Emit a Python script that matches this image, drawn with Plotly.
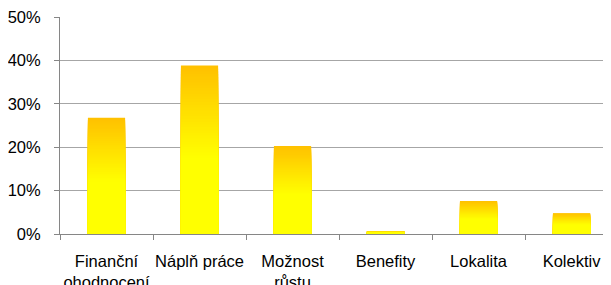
import plotly.graph_objects as go

categories = ["Finanční<br>ohodnocení", "Náplň práce", "Možnost<br>růstu", "Benefity", "Lokalita", "Kolektiv"]
values = [0.268, 0.388, 0.203, 0.007, 0.076, 0.048]
y_ticks = [0, 0.1, 0.2, 0.3, 0.4, 0.5]
y_tick_labels = ["0%", "10%", "20%", "30%", "40%", "50%"]

N = 60
top = (255, 192, 0)
bottom = (255, 255, 0)

def level_color(f):
    # f: relative height within bar (0 bottom, 1 top)
    t = max(0.0, (f - 0.45) / 0.55)
    r = round(bottom[0] + (top[0] - bottom[0]) * t)
    g = round(bottom[1] + (top[1] - bottom[1]) * t)
    b = round(bottom[2] + (top[2] - bottom[2]) * t)
    return f"rgb({r},{g},{b})"

fig = go.Figure()
# Overlay bars from full height down to shorter ones so each colour band covers the previous
for k in range(N, 0, -1):
    frac = k / N
    fig.add_trace(go.Bar(
        x=categories,
        y=[v * frac for v in values],
        marker=dict(color=level_color(frac - 0.5 / N), line=dict(width=0)),
        width=0.4,
        showlegend=False,
        hoverinfo="skip",
    ))

# the page body has an 8px default margin, so the figure is offset by 8px
fig.update_layout(
    width=611, height=285,
    margin=dict(l=52, r=0, t=9, b=59),
    barmode="overlay",
    plot_bgcolor="white", paper_bgcolor="white",
    font=dict(family="Liberation Sans, Arial, sans-serif", size=16.5, color="#000000"),
)
fig.update_xaxes(
    range=[-0.5, 5.51],
    showgrid=False,
    showline=True, linecolor="#868686", linewidth=1,
    ticks="outside", ticklen=5, tickcolor="#868686",
    tickson="boundaries",
    tickangle=0,
    ticklabelstandoff=12,
    ticklabeloverflow="allow",
    automargin=False,
)
fig.update_yaxes(
    range=[0, 0.5],
    tickvals=y_ticks, ticktext=y_tick_labels,
    showgrid=True, gridcolor="#A6A6A6", gridwidth=1,
    showline=True, linecolor="#868686", linewidth=1,
    ticks="outside", ticklen=5, tickcolor="#868686",
    ticklabelstandoff=10,
    ticklabeloverflow="allow",
    zeroline=False,
    automargin=False,
)
fig.write_html("out.html")
